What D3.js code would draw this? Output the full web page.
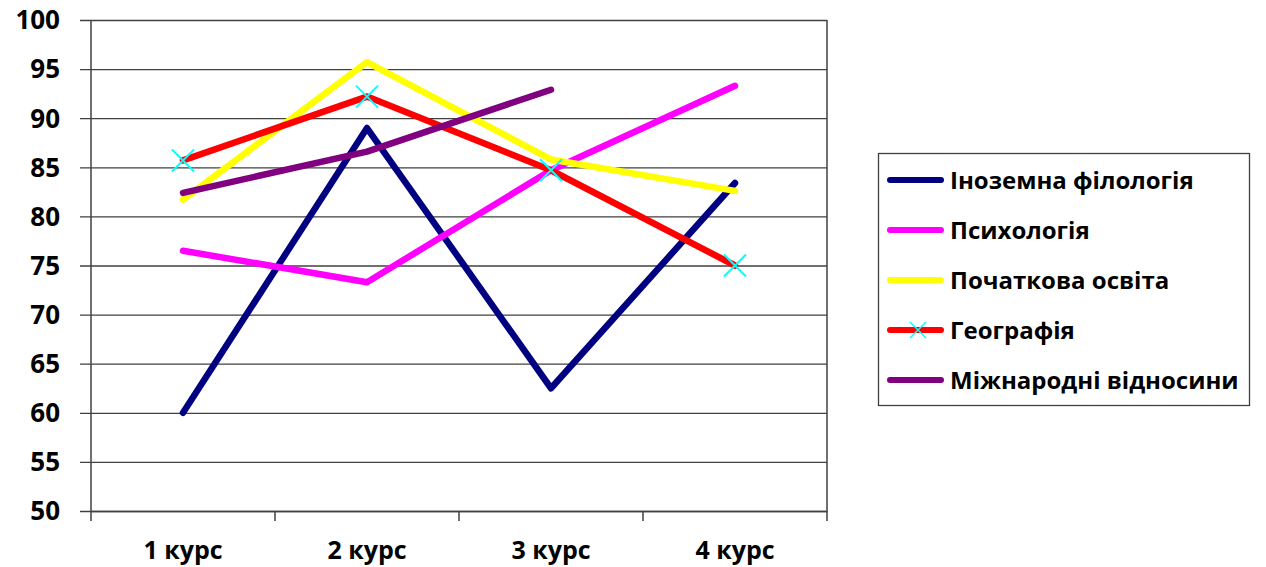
<!DOCTYPE html>
<html>
<head>
<meta charset="utf-8">
<script src="https://cdn.jsdelivr.net/npm/d3@7"></script>
<style>
  html, body { margin: 0; padding: 0; background: #fff; }
  svg { display: block; }
  text { font-family: "Open Sans", "Lato", sans-serif; font-weight: bold; fill: #000; }
</style>
</head>
<body>
<svg id="chart" width="1266" height="567"></svg>
<script>
// Categories (study years)
const courses = ["1 курс", "2 курс", "3 курс", "4 курс"];

// Series values per course
const inozemna   = [60.0, 89.0, 62.5, 83.4];
const psykholohiia = [76.5, 73.3, 84.7, 93.3];
const pochatkova = [81.7, 95.7, 85.8, 82.6];
const heohrafiia = [85.7, 92.2, 84.7, 75.0];
const mizhnarodni = [82.4, 86.6, 92.9, null];

const yTicks = [50, 55, 60, 65, 70, 75, 80, 85, 90, 95, 100];

const series = [
  { name: "Іноземна філологія", values: inozemna, color: "#000080" },
  { name: "Психологія", values: psykholohiia, color: "#FF00FF" },
  { name: "Початкова освіта", values: pochatkova, color: "#FFFF00" },
  { name: "Географія", values: heohrafiia, color: "#FF0000", marker: true },
  { name: "Міжнародні відносини", values: mizhnarodni, color: "#800080" }
];

const svg = d3.select("#chart");
const plot = { left: 91, right: 827, top: 20, bottom: 511 };

const x = d3.scaleBand().domain(courses).range([plot.left, plot.right]).padding(0);
const y = d3.scaleLinear().domain([50, 100]).range([plot.bottom, plot.top]);

// Horizontal gridlines with left tick marks
svg.append("g")
  .attr("transform", `translate(${plot.left},0)`)
  .call(d3.axisLeft(y).tickValues(yTicks).tickSize(-(plot.right - plot.left)).tickSizeOuter(0).tickFormat(""))
  .call(g => g.select(".domain").remove())
  .call(g => g.selectAll(".tick line").attr("stroke", "#404040").attr("stroke-width", 1.3).attr("x1", -11));

// Y tick labels
svg.append("g").selectAll("text")
  .data(yTicks)
  .join("text")
  .attr("x", 60)
  .attr("y", d => y(d))
  .attr("dy", "0.36em")
  .attr("text-anchor", "end")
  .style("font-size", "26px")
  .text(d => d);

// Plot frame: left axis and right border
svg.append("line").attr("x1", plot.left).attr("x2", plot.left).attr("y1", plot.top).attr("y2", plot.bottom + 10)
  .attr("stroke", "#404040").attr("stroke-width", 1.5);
svg.append("line").attr("x1", plot.right).attr("x2", plot.right).attr("y1", plot.top).attr("y2", plot.bottom + 10)
  .attr("stroke", "#404040").attr("stroke-width", 1.5);

// Category axis with tick marks between categories
const xAxis = svg.append("g")
  .attr("transform", `translate(0,${plot.bottom})`)
  .call(d3.axisBottom(x).tickSize(0).tickFormat(""));
xAxis.select(".domain").attr("stroke", "#404040").attr("stroke-width", 1.3);
courses.slice(1).forEach(c => {
  svg.append("line")
    .attr("x1", x(c)).attr("x2", x(c))
    .attr("y1", plot.bottom).attr("y2", plot.bottom + 10)
    .attr("stroke", "#404040").attr("stroke-width", 1.5);
});

svg.append("g").selectAll("text")
  .data(courses)
  .join("text")
  .attr("x", d => x(d) + x.bandwidth() / 2)
  .attr("y", 559)
  .attr("text-anchor", "middle")
  .style("font-size", "25px")
  .text(d => d);

// Series lines
const line = d3.line()
  .defined(d => d.v != null)
  .x(d => x(d.c) + x.bandwidth() / 2)
  .y(d => y(d.v));

const crossPath = s => `M${-s},${-s}L${s},${s}M${-s},${s}L${s},${-s}`;

series.forEach(s => {
  const pts = courses.map((c, i) => ({ c, v: s.values[i] }));
  svg.append("path")
    .datum(pts)
    .attr("d", line)
    .attr("fill", "none")
    .attr("stroke", s.color)
    .attr("stroke-width", 6.5)
    .attr("stroke-linejoin", "round")
    .attr("stroke-linecap", "round");
  if (s.marker) {
    svg.append("g").selectAll("path")
      .data(pts.filter(d => d.v != null))
      .join("path")
      .attr("transform", d => `translate(${x(d.c) + x.bandwidth() / 2},${y(d.v)})`)
      .attr("d", crossPath(11))
      .attr("stroke", "#00FFFF")
      .attr("stroke-width", 2)
      .attr("fill", "none");
  }
});

// Legend
const legend = svg.append("g");
legend.append("rect")
  .attr("x", 878.5).attr("y", 153.5).attr("width", 371).attr("height", 252)
  .attr("fill", "#fff").attr("stroke", "#404040").attr("stroke-width", 1.3);

series.forEach((s, i) => {
  const cy = 180 + i * 50;
  legend.append("line")
    .attr("x1", 890).attr("x2", 941).attr("y1", cy).attr("y2", cy)
    .attr("stroke", s.color).attr("stroke-width", 6).attr("stroke-linecap", "round");
  if (s.marker) {
    legend.append("path")
      .attr("transform", `translate(918,${cy})`)
      .attr("d", crossPath(8))
      .attr("stroke", "#00FFFF").attr("stroke-width", 1.5).attr("fill", "none");
  }
  legend.append("text")
    .attr("x", 950).attr("y", cy)
    .attr("dy", "0.36em")
    .style("font-size", "24px")
    .text(s.name);
});
</script>
</body>
</html>
